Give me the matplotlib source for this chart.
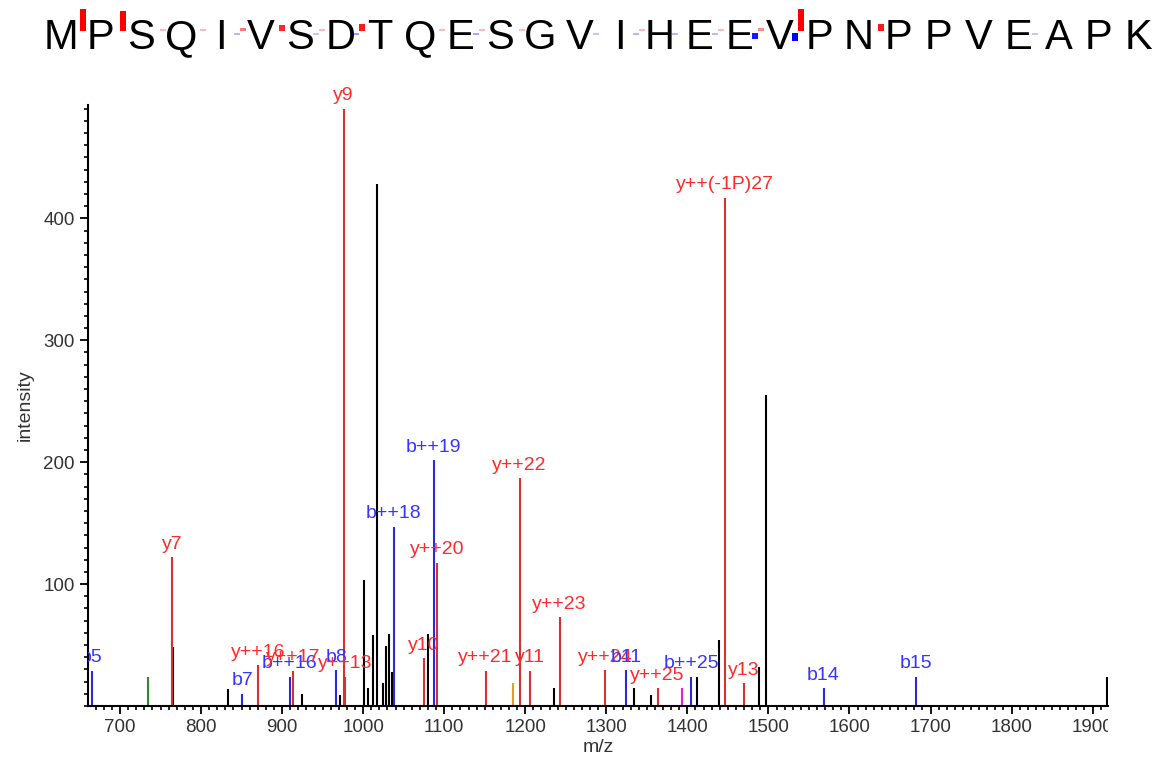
import numpy as np
import matplotlib
matplotlib.use("Agg")
import matplotlib.pyplot as plt
from matplotlib.patches import Rectangle
from matplotlib.transforms import Bbox, TransformedBbox

plt.rcParams['font.family'] = ['Liberation Sans', 'DejaVu Sans']

# peptide and fragment coverage (site k = cleavage between residue k and k+1)
sequence = "MPSQIVSDTQESGVIHEEVPNPPVEAPK"
b_sites = [4, 6, 7, 10, 13, 14, 15, 16, 17, 18, 24]
b_strength = [0.05, 0.03, 0.1, 0.08, 0.03, 0.05, 0.05, 0.05, 0.3, 0.4, 0.03]
y_sites = [0, 1, 2, 3, 4, 5, 6, 7, 9, 10, 11, 14, 16, 17, 18, 20]
y_strength = [1.0, 0.9, 0.05, 0.05, 0.15, 0.28, 0.05, 0.3, 0.05, 0.05, 0.05,
              0.05, 0.05, 0.12, 1.0, 0.3]

# unannotated peaks
other_mz = [735, 765.7, 832.8, 924, 971, 1001, 1006, 1012.7, 1017.6, 1024, 1028,
            1032, 1035.4, 1080, 1185.4, 1235, 1334, 1355.5, 1393, 1412, 1439.5,
            1489, 1497, 1918]
other_int = [24, 48, 14, 10, 9, 103, 15, 58, 428, 19, 49,
             59, 28, 59, 19, 14.5, 14.5, 9, 14.5, 24, 54,
             32, 255, 24]
other_color = ['#2e8b2e', 'k', 'k', 'k', 'k', 'k', 'k', 'k', 'k', 'k', 'k',
               'k', 'k', 'k', '#e0a020', 'k', 'k', 'k', '#e020e0', 'k', 'k',
               'k', 'k', 'k']

# annotated peaks
ion_label = ['b5', 'y7', 'b7', 'y++16', 'b++16', 'y++17', 'b8', 'y9', 'y++13',
             'b++18', 'y10', 'b++19', 'y++20', 'y++21', 'y++22', 'y11', 'y++23',
             'y++24', 'b11', 'y++25', 'b++25', 'y++(-1P)27', 'y13', 'b14', 'b15']
ion_mz = [665, 764.5, 851, 870, 909.6, 913.7, 967, 976, 978,
          1038, 1075, 1087, 1091.7, 1151, 1193, 1205.5, 1242.5,
          1299, 1324, 1363.2, 1405, 1447, 1469.4, 1568, 1681.5]
ion_int = [29, 122, 10, 33.6, 24, 29, 29.5, 490, 24,
           147, 39, 201.6, 117.5, 29, 187, 29, 73,
           29.5, 29.5, 14.5, 24, 417, 19, 14.5, 24]

RED_LINE, RED_TXT = '#d8302f', '#ff2a2a'
BLUE_LINE, BLUE_TXT = '#2a2ad8', '#3535ff'

W, H = 1160, 761
fig = plt.figure(figsize=(W / 100, H / 100), dpi=100)
ax = fig.add_axes([88 / W, 55 / H, 1020 / W, 601 / H])

ax.vlines(other_mz, 0, other_int, colors=other_color, lw=1.5)
ion_colors = [RED_LINE if l.startswith('y') else BLUE_LINE for l in ion_label]
ax.vlines(ion_mz, 0, ion_int, colors=ion_colors, lw=1.5)

clip = TransformedBbox(Bbox([[0, -0.2], [1, 1.2]]), ax.transAxes)
for lab, mz, it in zip(ion_label, ion_mz, ion_int):
    c = RED_TXT if lab.startswith('y') else BLUE_TXT
    t = ax.annotate(lab, (mz, it), xytext=(0, 6), textcoords='offset points',
                    ha='center', va='baseline', color=c, fontsize=14,
                    annotation_clip=False)
    t.set_clip_on(True)
    t.set_clip_box(clip)

ax.set_xlim(660.5, 1919)
ax.set_ylim(0, 493)
ax.set_xticks(np.arange(700, 2000, 100))
ax.set_xticks(np.arange(670, 1920, 10), minor=True)
ax.set_yticks([100, 200, 300, 400])
ax.set_yticks(np.arange(0, 493, 10), minor=True)
for s in ['top', 'right']:
    ax.spines[s].set_visible(False)
for s in ['left', 'bottom']:
    ax.spines[s].set_linewidth(1.5)
ax.tick_params(which='major', length=6, width=1.3, labelsize=13.5, labelcolor='#333333')
ax.tick_params(which='minor', length=3, width=1.2)
for lab in ax.get_xticklabels():
    lab.set_clip_on(True)
    lab.set_clip_box(TransformedBbox(Bbox([[0, -0.3], [1, 1]]), ax.transAxes))
ax.set_xlabel('m/z', fontsize=14, color='#333333', labelpad=2)
ax.set_ylabel('intensity', fontsize=14, color='#333333', labelpad=7)

# sequence header with fragment marks
hx = fig.add_axes([0, 1 - 70 / H, 1, 70 / H])
hx.set_xlim(0, W)
hx.set_ylim(70, 0)
hx.axis('off')
x0, step = 61, 39.9
for i, aa in enumerate(sequence):
    hx.text(x0 + i * step, 49, aa, ha='center', va='baseline', fontsize=30, color='black')
for k, v in zip(b_sites, b_strength):
    xc = x0 + (k + 0.5) * step
    h = max(2, 20 * v)
    hx.add_patch(Rectangle((xc - 7, 33), 6, h, color='#0000ff',
                           alpha=min(1, 0.15 + 2.5 * v), lw=0))
for k, v in zip(y_sites, y_strength):
    xc = x0 + (k + 0.5) * step
    h = max(2, 22 * v)
    hx.add_patch(Rectangle((xc - 1, 31 - h), 6, h, color='#ff0000',
                           alpha=min(1, 0.15 + 2.5 * v), lw=0))

fig.savefig('out.png', dpi=100)
